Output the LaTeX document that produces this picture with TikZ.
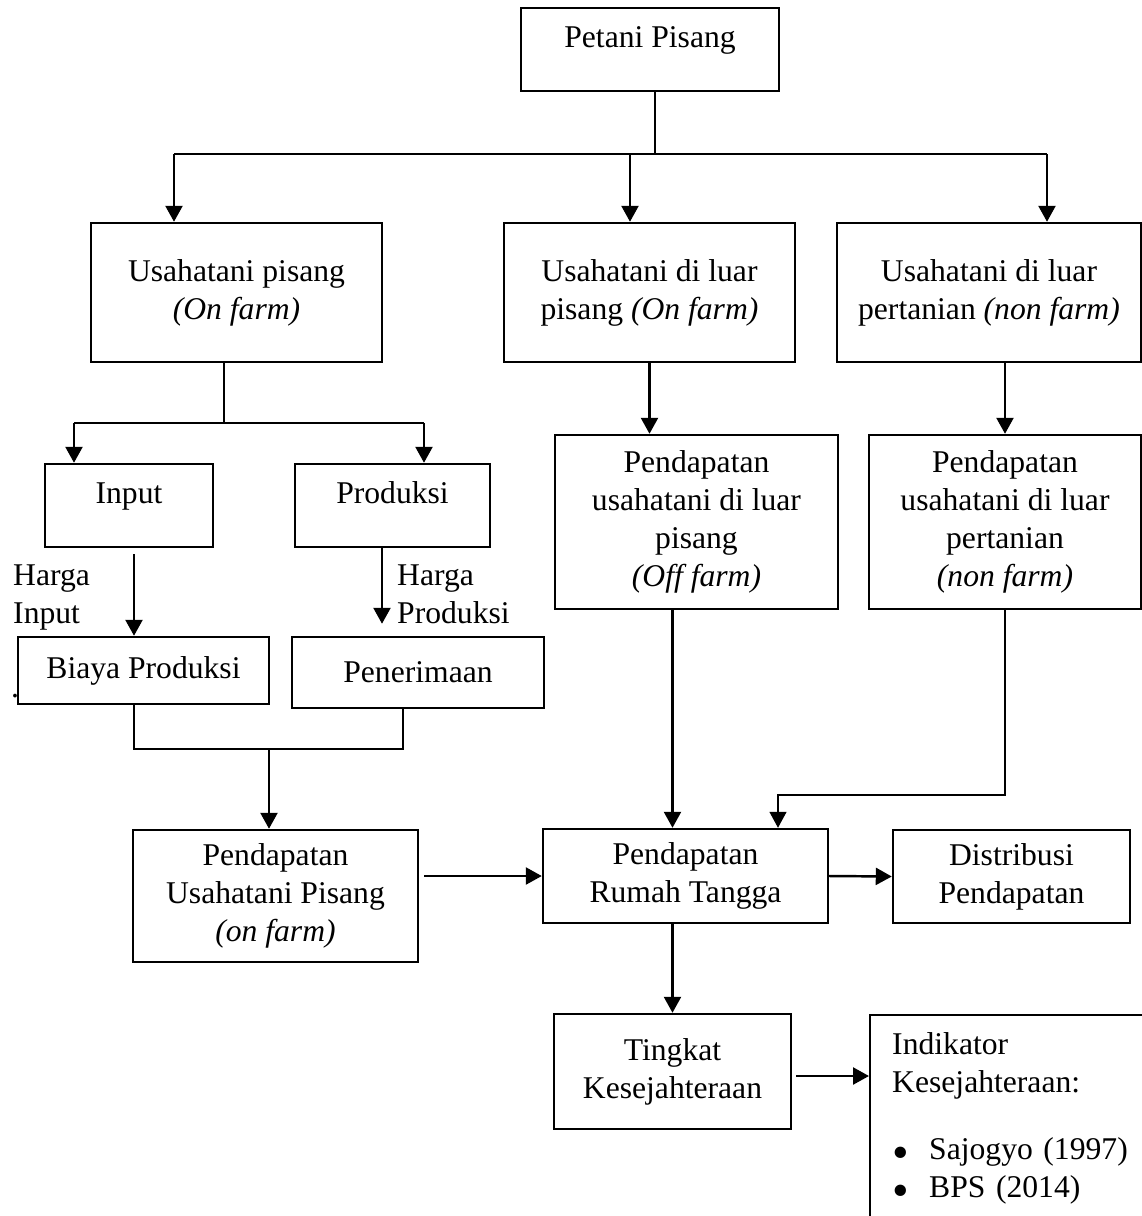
\documentclass[tikz,border=0pt]{standalone}
\usepackage{fontspec}
\setmainfont{Liberation Serif}
\usepackage{tikz}
\usetikzlibrary{arrows.meta}
\tikzstyle{kotak}=[draw, rectangle, align=center, inner sep=0pt,
    font=\fontsize{18}{21.6}\selectfont]
\tikzstyle{teks}=[align=left, inner sep=0pt, font=\fontsize{18}{21.6}\selectfont]
\newcommand{\butir}{\makebox[0.74cm][l]{\raisebox{-0.3em}{\scalebox{1.5}{\textbullet}}}}

\begin{document}
\begin{tikzpicture}[line width=1.4pt, >={Triangle[width=0.34cm,length=0.32cm]}]
  \useasboundingbox (0,0) rectangle (22.84,-24.32);
  \clip (0,0) rectangle (22.84,-24.32);

  \node[kotak, minimum width=5.16cm, minimum height=1.66cm] at (13.0,-0.99) (petani) {Petani Pisang\\[-0.25cm]\mbox{}};

  \node[kotak, minimum width=5.82cm, minimum height=2.78cm] at (4.73,-5.85) (usp) {Usahatani pisang\\\textit{(On farm)}};
  \node[kotak, minimum width=5.82cm, minimum height=2.78cm] at (12.99,-5.85) (usl) {Usahatani di luar\\pisang \textit{(On farm)}};
  \node[kotak, minimum width=6.08cm, minimum height=2.78cm] at (19.78,-5.85) (unf) {Usahatani di luar\\pertanian \textit{(non farm)}};

  \node[kotak, minimum width=3.36cm, minimum height=1.66cm] at (2.58,-10.11) (input) {Input\\[-0.25cm]\mbox{}};
  \node[kotak, minimum width=3.9cm, minimum height=1.66cm] at (7.85,-10.11) (prod) {Produksi\\[-0.25cm]\mbox{}};
  \node[teks, anchor=north west] at (0.24,-11.28) (hin) {Harga\\Input};
  \node[teks, anchor=north west] at (7.92,-11.28) (hprod) {Harga\\Produksi};

  \node[kotak, minimum width=5.02cm, minimum height=1.34cm] at (2.87,-13.41) (biaya) {Biaya Produksi};
  \node[kotak, minimum width=5.04cm, minimum height=1.42cm] at (8.36,-13.45) (terima) {Penerimaan};
  \node[teks, anchor=base] at (0.3,-13.94) (titik) {.};

  \node[kotak, minimum width=5.66cm, minimum height=3.48cm] at (13.93,-10.44) (pdpl) {Pendapatan\\usahatani di luar\\pisang\\\textit{(Off farm)}};
  \node[kotak, minimum width=5.44cm, minimum height=3.48cm] at (20.1,-10.44) (pdpn) {Pendapatan\\usahatani di luar\\pertanian\\\textit{(non farm)}};

  \node[kotak, minimum width=5.7cm, minimum height=2.64cm] at (5.51,-17.92) (pdup) {Pendapatan\\Usahatani Pisang\\\textit{(on farm)}};
  \node[kotak, minimum width=5.7cm, minimum height=1.88cm] at (13.71,-17.52) (prt) {Pendapatan\\Rumah Tangga};
  \node[kotak, minimum width=4.74cm, minimum height=1.86cm] at (20.23,-17.53) (dist) {Distribusi\\Pendapatan};

  \node[kotak, minimum width=4.74cm, minimum height=2.3cm] at (13.45,-21.43) (tingkat) {Tingkat\\Kesejahteraan};
  \node[kotak, anchor=north west, align=left, text width=6cm, inner xsep=0.44cm, inner ysep=0.34cm] at (17.38,-20.28) (indikator) {Indikator\\Kesejahteraan:\\[0.58cm]
    \butir Sajogyo (1997)\\
    \butir BPS (2014)\\ \mbox{}};

  % percabangan atas
  \coordinate (split1) at (13.1,-3.08);
  \coordinate (busL) at (3.48,-3.08);
  \coordinate (busM) at (12.6,-3.08);
  \coordinate (busR) at (20.94,-3.08);
  \draw[line width=0.8pt] (petani.south -| split1) -- (split1);
  \draw (busL) -- (busR);
  \draw[->] (busL) -- (busL |- usp.north);
  \draw[->] (busM) -- (busM |- usl.north);
  \draw[->] (busR) -- (busR |- unf.north);

  % input dan produksi
  \coordinate (split2) at (4.48,-8.46);
  \coordinate (in2) at (1.48,-8.46);
  \coordinate (pr2) at (8.48,-8.46);
  \draw (split2 |- usp.south) -- (split2);
  \draw (in2) -- (pr2);
  \draw[->] (in2) -- (in2 |- input.north);
  \draw[->] (pr2) -- (pr2 |- prod.north);
  \draw[->] ([xshift=0.1cm,yshift=-0.12cm]input.south) -- ([xshift=0.1cm]input.south |- biaya.north);
  \draw[->, shorten >=0.24cm] ([xshift=-0.21cm]prod.south) -- ([xshift=-0.21cm]prod.south |- terima.north);

  \coordinate (gabung) at (5.38,-14.98);
  \draw ([xshift=-0.19cm]biaya.south) |- (gabung) -| ([xshift=-0.3cm]terima.south);
  \draw[->] (gabung) -- (gabung |- pdup.north);

  % kolom tengah dan kanan
  \draw[->] (usl.south) -- (usl.south |- pdpl.north);
  \draw[->] (pdpn.north |- unf.south) -- (pdpn.north);
  \draw[->] (pdpl.south -| tingkat) -- (prt.north -| tingkat);
  \coordinate (belok) at (15.56,-15.9);
  \draw[->, line width=0.8pt] (pdpn.south) |- (belok) -- (belok |- prt.north);

  \draw[->] ([xshift=0.1cm]pdup.east |- prt.west) -- (prt.west);
  \draw[->] (prt.east) -- (dist.west);
  \draw[->] (prt.south -| tingkat) -- (tingkat.north);
  \draw[->] ([xshift=0.08cm,yshift=-0.09cm]tingkat.east) -- ([yshift=-0.09cm]tingkat.east -| indikator.west);
\end{tikzpicture}
\end{document}
